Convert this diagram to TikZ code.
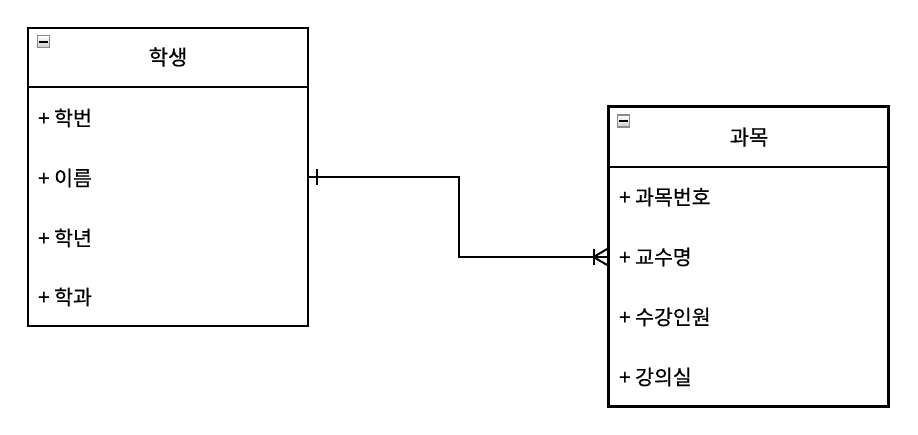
\documentclass[tikz,border=0pt]{standalone}
\usepackage{fontspec}
\setmainfont{Noto Sans CJK KR}[FakeBold=0.6,AutoFakeBold=0.6]
\begin{document}
\begin{tikzpicture}[x=1pt,y=-1pt,
  box/.style={draw, line width=2.8pt, minimum width=280pt, inner sep=0pt},
  divider/.style={line width=2.6pt},
  ttl/.style={font=\fontsize{21}{24}\selectfont, inner sep=0pt},
  attr/.style={anchor=west, font=\fontsize{20.5}{24}\selectfont, inner sep=0pt},
  icon/.style={draw=gray!90, line width=1.2pt, top color=white, bottom color=gray!40, minimum width=12pt, minimum height=12pt, inner sep=0pt},
  conn/.style={line width=2pt}]
\useasboundingbox (0,0) rectangle (918,434);
% 학생 box
\node[box, minimum height=298pt] (s) at (168,177) {};
\coordinate (s1) at (28,87);
\coordinate (s2) at (308,87);
\draw[divider] (s1) -- (s2);
\node[icon] (si) at (43.5,41.5) {};
\draw[line width=2pt] ([xshift=2.5pt]si.west) -- ([xshift=-2.5pt]si.east);
\node[ttl] (st) at (168,57) {학생};
\node[attr] (sa1) at (38,118) {+ 학번};
\node[attr] (sa2) at (38,178) {+ 이름};
\node[attr] (sa3) at (38,238) {+ 학년};
\node[attr] (sa4) at (38,297) {+ 학과};
% 과목 box
\node[box, minimum height=300pt] (c) at (748.5,256.5) {};
\coordinate (c1) at (609,167);
\coordinate (c2) at (888,167);
\draw[divider] (c1) -- (c2);
\node[icon] (ci) at (623.5,121) {};
\draw[line width=2pt] ([xshift=2.5pt]ci.west) -- ([xshift=-2.5pt]ci.east);
\node[ttl] (ct) at (749,137) {과목};
\node[attr] (ca1) at (619,197) {+ 과목번호};
\node[attr] (ca2) at (619,257) {+ 교수명};
\node[attr] (ca3) at (619,317) {+ 수강인원};
\node[attr] (ca4) at (619,377) {+ 강의실};
% connector
\coordinate (p0) at (s.east |- 0,177);
\coordinate (p1) at (458.5,177);
\coordinate (p2) at (458.5,257);
\coordinate (p3) at (c.west |- 0,257);
\draw[conn] (p0) -- (p1) -- (p2) -- (p3);
% one mark
\coordinate (m1) at (316.5,169);
\coordinate (m2) at (316.5,185);
\draw[conn] (m1) -- (m2);
% crow's foot with bar
\coordinate (b1) at (593.5,249);
\coordinate (b2) at (593.5,265);
\draw[conn] (b1) -- (b2);
\coordinate (f0) at (593.5,257);
\coordinate (f1) at (c.west |- 0,249);
\coordinate (f2) at (c.west |- 0,265);
\draw[conn] (f1) -- (f0) -- (f2);
\end{tikzpicture}
\end{document}
